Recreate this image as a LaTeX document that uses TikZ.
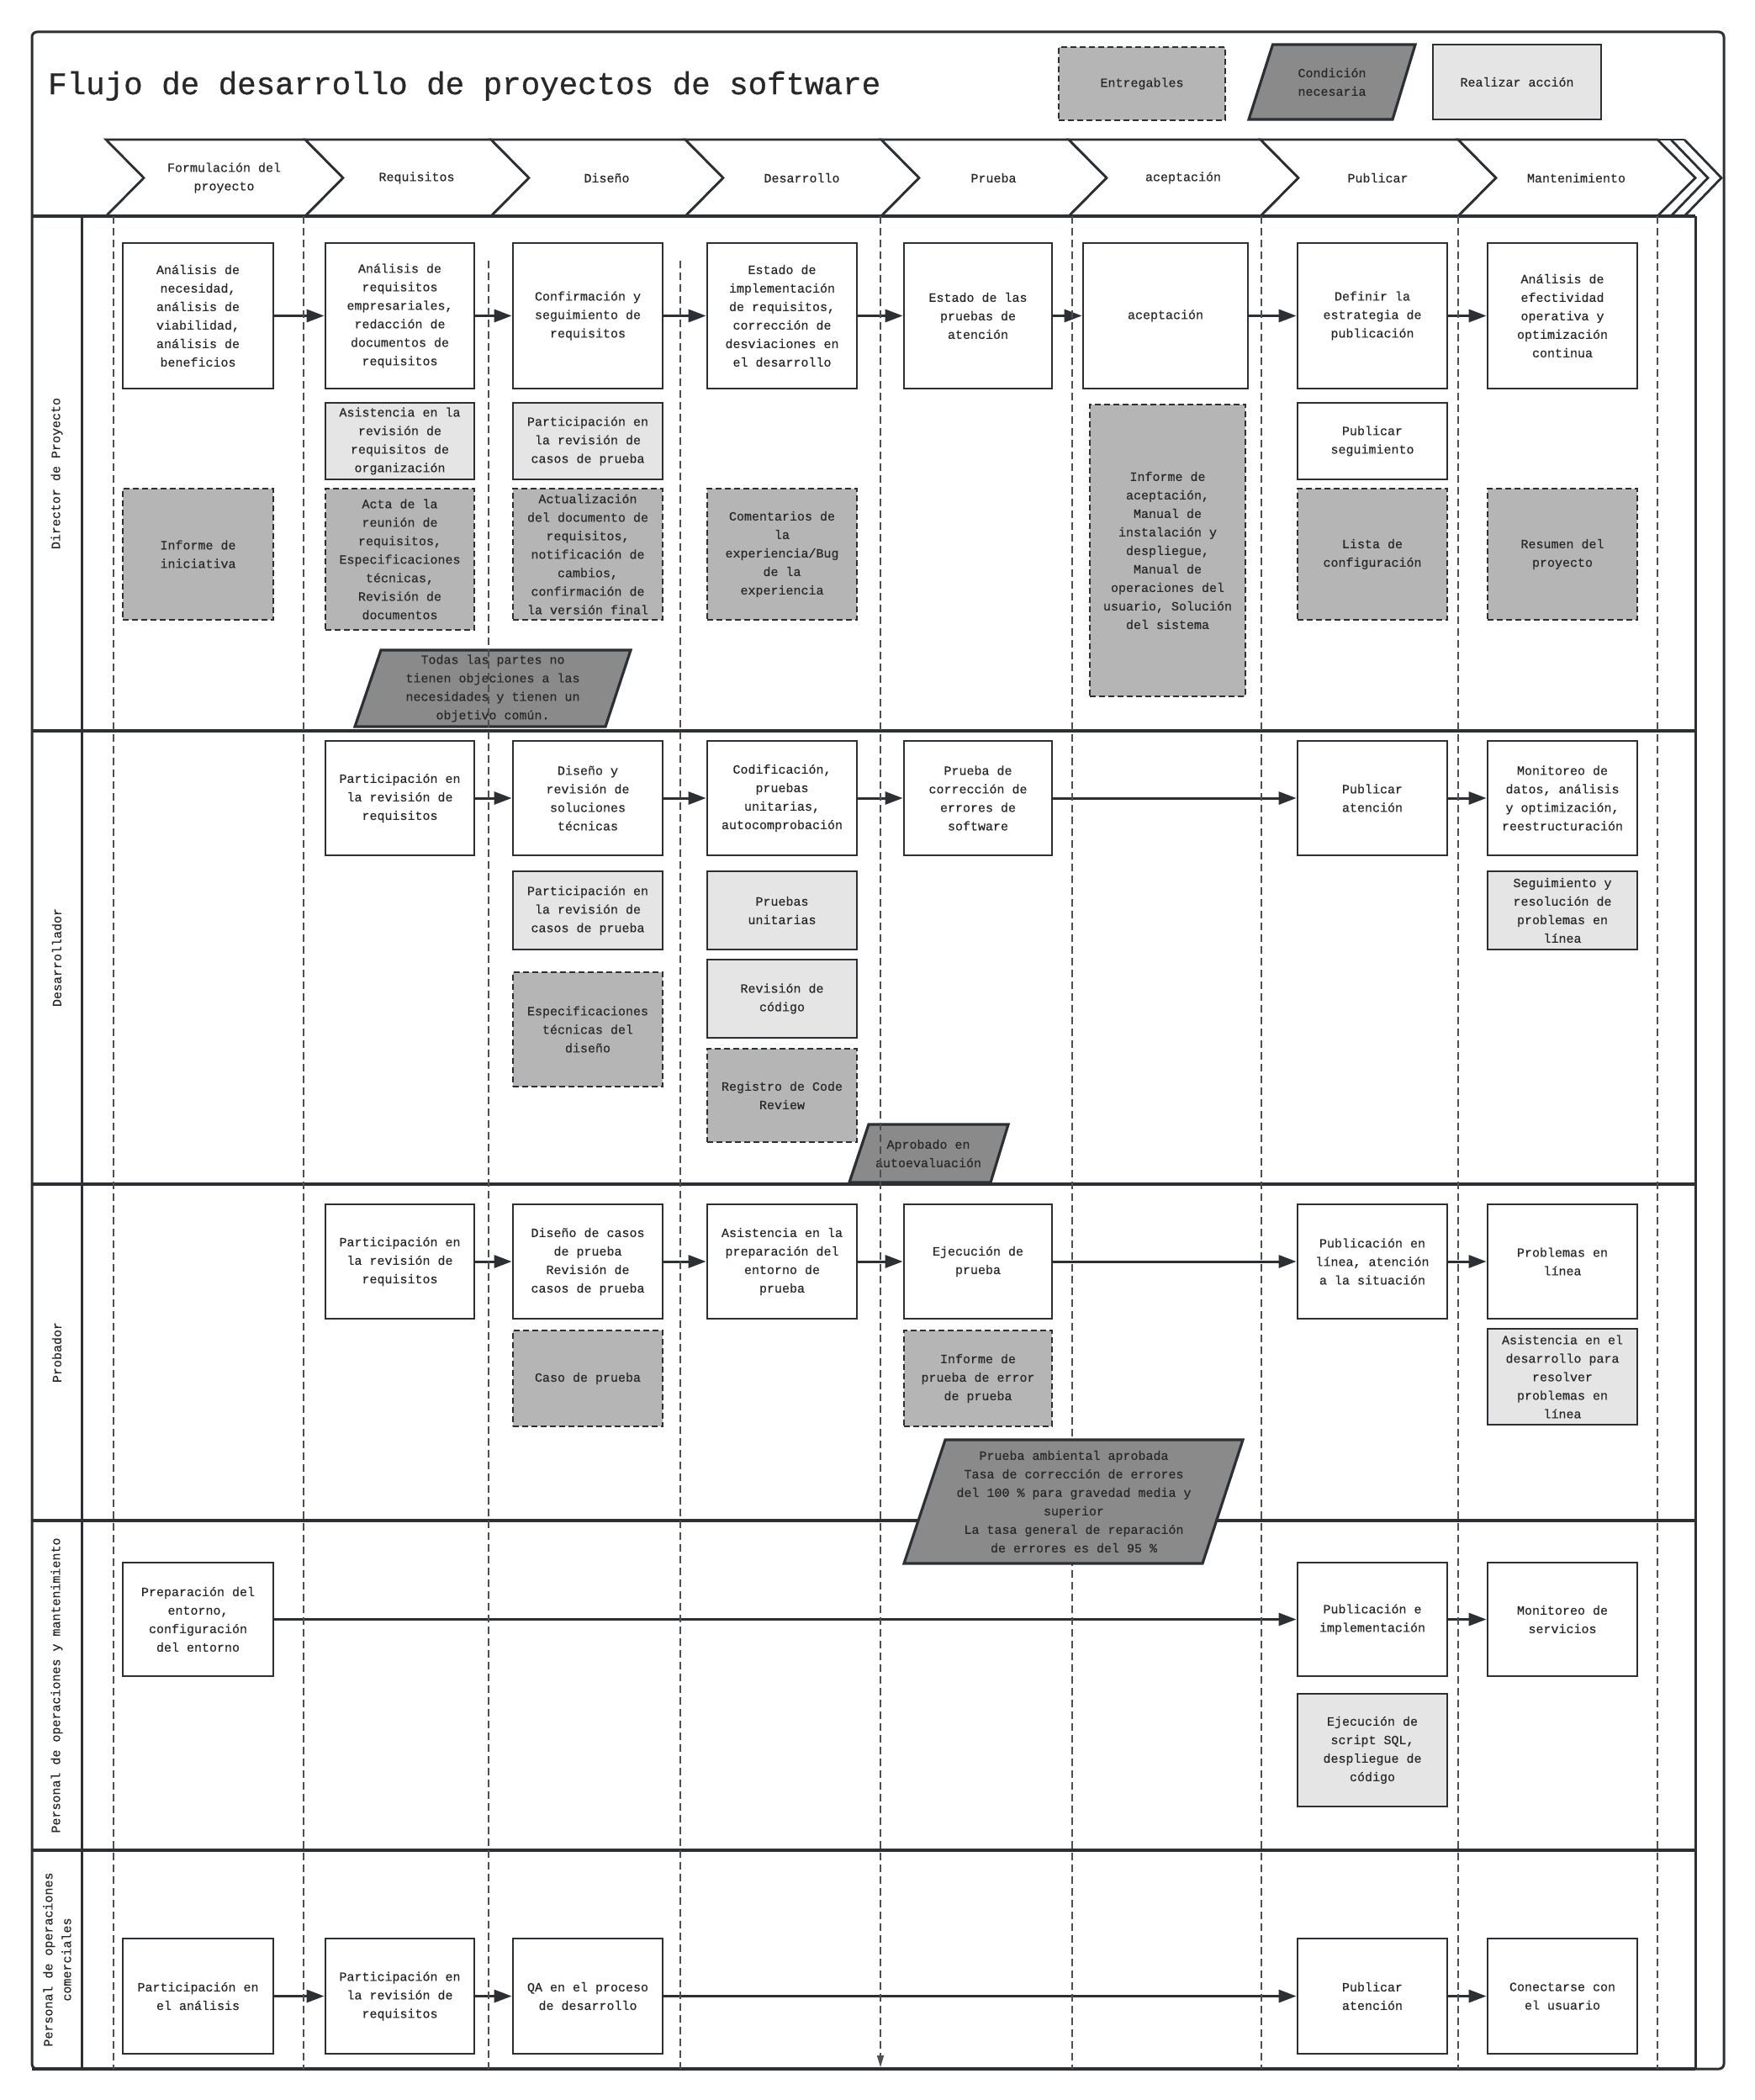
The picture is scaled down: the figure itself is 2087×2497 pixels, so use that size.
\documentclass[tikz,border=0pt]{standalone}
\usepackage{fontspec}
\setmainfont{Liberation Mono}[FakeBold=0.5]
\newfontfamily\titlefont{Liberation Mono}[FakeBold=0.8]
\usetikzlibrary{arrows.meta}
\definecolor{linec}{RGB}{44,48,53}
\definecolor{textc}{RGB}{40,40,40}
\definecolor{delc}{RGB}{181,181,181}
\definecolor{actc}{RGB}{229,229,229}
\definecolor{condc}{RGB}{138,138,138}
\tikzset{
  txt/.style={text=textc, font=\fontsize{15}{22}\selectfont, align=center},
  box/.style={txt, draw=linec, line width=2.8pt, fill=white, inner sep=2pt},
  act/.style={box, fill=actc},
  deliv/.style={box, fill=delc, line width=2pt, dash pattern=on 7pt off 4pt},
  cond/.style={draw=linec, line width=3.2pt, fill=condc, line join=miter},
  lanesep/.style={draw=linec, line width=4.5pt},
  colsep/.style={draw=linec!85, line width=1.5pt, dash pattern=on 9pt off 5pt},
  flow/.style={draw=linec, line width=3pt, -{Triangle[length=21pt,width=15pt]}},
  chev/.style={draw=linec, line width=2.8pt, fill=white, line join=miter},
  lanelbl/.style={txt, rotate=90},
}
\newcommand{\Bx}[6]{\node[#1, minimum width=#4pt, minimum height=#5pt] (#2) at (#3) {#6};}
\begin{document}
\begin{tikzpicture}[x=1pt,y=-1pt]
\useasboundingbox (0,0) rectangle (2087,2497);
\fill[white] (0,0) rectangle (2087,2497);

% outer frame
\draw[linec, line width=3pt, rounded corners=6pt] (38,38) rectangle (2050,2460);

% title
\node[anchor=base west, font=\titlefont\fontsize{37.5}{40}\selectfont, text=textc, inner sep=0pt] (title) at (57,112) {Flujo de desarrollo de proyectos de software};

% legend
\node[deliv, minimum width=198pt, minimum height=87pt] (lg1) at (1358,99.5) {Entregables};
\draw[cond] (1513.5,53) -- (1683,53) -- (1656,142) -- (1485,142) -- cycle;
\node[txt] (lg2) at (1584,97.5) {Condición\\necesaria};
\node[act, minimum width=200pt, minimum height=89pt] (lg3) at (1804,97.5) {Realizar acción};

% header chevrons
\foreach \a/\b/\t [count=\i] in {126/363/{Formulación del\\proyecto},363/584/Requisitos,584/815/Diseño,815/1048/Desarrollo,1048/1271/Prueba,1271/1499/aceptación,1499/1734/Publicar,1734/1971/Mantenimiento}{
  \draw[chev] (\a,166) -- (\b,166) -- (\b+45,211.5) -- (\b,257) -- (\a,257) -- (\a+45,211.5) -- cycle;
  \node[txt] (ch\i) at ({(\a+\b)/2+22},211.5) {\t};
}
\draw[linec, line width=2.8pt] (1971,166) -- (2003,166);
\draw[linec, line width=2.8pt] (1971,257) -- (2003,257);
\draw[linec, line width=2.8pt, line join=miter] (1987,166) -- (2031,211.5) -- (1987,257);
\draw[linec, line width=2.8pt, line join=miter] (2003,166) -- (2047,211.5) -- (2003,257);

% lanes container
\draw[lanesep] (38,257) -- (2016,257);
\draw[linec, line width=3pt] (97,257) -- (97,2460);
\draw[linec, line width=3pt] (2016,257) -- (2016,2460);
\foreach \y in {869,1408,1808,2200}{\draw[lanesep] (38,\y) -- (2016,\y);}
\draw[lanesep] (38,2460) -- (2016,2460);

% lane labels
\node[lanelbl] (L1) at (67.5,563) {Director de Proyecto};
\node[lanelbl] (L2) at (67.5,1138.5) {Desarrollador};
\node[lanelbl] (L3) at (67.5,1608) {Probador};
\node[lanelbl] (L4) at (67.5,2004) {Personal de operaciones y mantenimiento};
\node[lanelbl] (L5) at (68,2330) {Personal de operaciones\\comerciales};

% ---- lane 1: Director
\Bx{box}{d1}{235.5,375.5}{179}{173}{Análisis de\\necesidad,\\análisis de\\viabilidad,\\análisis de\\beneficios}
\Bx{box}{d2}{475.5,375.5}{177}{173}{Análisis de\\requisitos\\empresariales,\\redacción de\\documentos de\\requisitos}
\Bx{box}{d3}{699,375.5}{178}{173}{Confirmación y\\seguimiento de\\requisitos}
\Bx{box}{d4}{930,375.5}{178}{173}{Estado de\\implementación\\de requisitos,\\corrección de\\desviaciones en\\el desarrollo}
\Bx{box}{d5}{1163,375.5}{176}{173}{Estado de las\\pruebas de\\atención}
\Bx{box}{d6}{1386,375.5}{196}{173}{aceptación}
\Bx{box}{d7}{1632,375.5}{178}{173}{Definir la\\estrategia de\\publicación}
\Bx{box}{d8}{1858,375.5}{178}{173}{Análisis de\\efectividad\\operativa y\\optimización\\continua}

\Bx{act}{d2a}{475.5,524.5}{177}{91}{Asistencia en la\\revisión de\\requisitos de\\organización}
\Bx{act}{d3a}{699,524.5}{178}{91}{Participación en\\la revisión de\\casos de prueba}
\Bx{box}{d7a}{1632,524.5}{178}{91}{Publicar\\seguimiento}

\Bx{deliv}{d1e}{235.5,659}{179}{156}{Informe de\\iniciativa}
\Bx{deliv}{d2e}{475.5,665}{177}{168}{Acta de la\\reunión de\\requisitos,\\Especificaciones\\técnicas,\\Revisión de\\documentos}
\Bx{deliv}{d3e}{699,659}{178}{156}{Actualización\\del documento de\\requisitos,\\notificación de\\cambios,\\confirmación de\\la versión final}
\Bx{deliv}{d4e}{930,659}{178}{156}{Comentarios de\\la\\experiencia/Bug\\de la\\experiencia}
\Bx{deliv}{d6e}{1388.5,654.5}{185}{347}{Informe de\\aceptación,\\Manual de\\instalación y\\despliegue,\\Manual de\\operaciones del\\usuario, Solución\\del sistema}
\Bx{deliv}{d7e}{1632,659}{178}{156}{Lista de\\configuración}
\Bx{deliv}{d8e}{1858,659}{178}{156}{Resumen del\\proyecto}

\draw[cond] (453,773) -- (750,773) -- (720,864) -- (422,864) -- cycle;
\node[txt] (k1) at (586,818.5) {Todas las partes no\\tienen objeciones a las\\necesidades y tienen un\\objetivo común.};

% ---- lane 2: Desarrollador
\Bx{box}{e2}{475.5,949}{177}{136}{Participación en\\la revisión de\\requisitos}
\Bx{box}{e3}{699,949}{178}{136}{Diseño y\\revisión de\\soluciones\\técnicas}
\Bx{box}{e4}{930,949}{178}{136}{Codificación,\\pruebas\\unitarias,\\autocomprobación}
\Bx{box}{e5}{1163,949}{176}{136}{Prueba de\\corrección de\\errores de\\software}
\Bx{box}{e7}{1632,949}{178}{136}{Publicar\\atención}
\Bx{box}{e8}{1858,949}{178}{136}{Monitoreo de\\datos, análisis\\y optimización,\\reestructuración}

\Bx{act}{e3a}{699,1082.5}{178}{93}{Participación en\\la revisión de\\casos de prueba}
\Bx{act}{e4a}{930,1082.5}{178}{93}{Pruebas\\unitarias}
\Bx{act}{e8a}{1858,1082.5}{178}{93}{Seguimiento y\\resolución de\\problemas en\\línea}
\Bx{act}{e4b}{930,1187.5}{178}{93}{Revisión de\\código}
\Bx{deliv}{e3e}{699,1224}{178}{136}{Especificaciones\\técnicas del\\diseño}
\Bx{deliv}{e4e}{930,1302.5}{178}{111}{Registro de Code\\Review}

\draw[cond] (1033,1337) -- (1199,1337) -- (1178,1406) -- (1010,1406) -- cycle;
\node[txt] (k2) at (1104,1371.5) {Aprobado en\\autoevaluación};

% ---- lane 3: Probador
\Bx{box}{f2}{475.5,1500}{177}{136}{Participación en\\la revisión de\\requisitos}
\Bx{box}{f3}{699,1500}{178}{136}{Diseño de casos\\de prueba\\Revisión de\\casos de prueba}
\Bx{box}{f4}{930,1500}{178}{136}{Asistencia en la\\preparación del\\entorno de\\prueba}
\Bx{box}{f5}{1163,1500}{176}{136}{Ejecución de\\prueba}
\Bx{box}{f7}{1632,1500}{178}{136}{Publicación en\\línea, atención\\a la situación}
\Bx{box}{f8}{1858,1500}{178}{136}{Problemas en\\línea}

\Bx{deliv}{f3e}{699,1639}{178}{114}{Caso de prueba}
\Bx{deliv}{f5e}{1163,1639}{176}{114}{Informe de\\prueba de error\\de prueba}
\Bx{act}{f8a}{1858,1637}{178}{114}{Asistencia en el\\desarrollo para\\resolver\\problemas en\\línea}

% ---- lane 4: Operaciones
\Bx{box}{g1}{235.5,1925.5}{179}{135}{Preparación del\\entorno,\\configuración\\del entorno}
\Bx{box}{g7}{1632,1925.5}{178}{135}{Publicación e\\implementación}
\Bx{box}{g8}{1858,1925.5}{178}{135}{Monitoreo de\\servicios}
\Bx{act}{g7a}{1632,2081}{178}{134}{Ejecución de\\script SQL,\\despliegue de\\código}

% ---- lane 5: Comerciales
\Bx{box}{h1}{235.5,2373.5}{179}{137}{Participación en\\el análisis}
\Bx{box}{h2}{475.5,2373.5}{177}{137}{Participación en\\la revisión de\\requisitos}
\Bx{box}{h3}{699,2373.5}{178}{137}{QA en el proceso\\de desarrollo}
\Bx{box}{h7}{1632,2373.5}{178}{137}{Publicar\\atención}
\Bx{box}{h8}{1858,2373.5}{178}{137}{Conectarse con\\el usuario}

% ---- flows
\draw[flow] (d1) -- (d2);
\draw[flow] (d2) -- (d3);
\draw[flow] (d3) -- (d4);
\draw[flow] (d4) -- (d5);
\draw[flow] (d5) -- (d6);
\draw[flow] (d6) -- (d7);
\draw[flow] (d7) -- (d8);
\draw[flow] (e2) -- (e3);
\draw[flow] (e3) -- (e4);
\draw[flow] (e4) -- (e5);
\draw[flow] (e5) -- (e7);
\draw[flow] (e7) -- (e8);
\draw[flow] (f2) -- (f3);
\draw[flow] (f3) -- (f4);
\draw[flow] (f4) -- (f5);
\draw[flow] (f5) -- (f7);
\draw[flow] (f7) -- (f8);
\draw[flow] (g1) -- (g7);
\draw[flow] (g7) -- (g8);
\draw[flow] (h1) -- (h2);
\draw[flow] (h2) -- (h3);
\draw[flow] (h3) -- (h7);
\draw[flow] (h7) -- (h8);

% ---- column separators
\foreach \x in {135,361,1275,1500,1734,1971}{\draw[colsep] (\x,257) -- (\x,2460);}
\foreach \x in {581,809}{\draw[colsep] (\x,310) -- (\x,2460);}
\draw[colsep, -{Triangle[length=14pt,width=8pt]}] (1047,257) -- (1047,2458);

% condition 3 (drawn over the separator)
\draw[cond] (1124,1712) -- (1478,1712) -- (1430,1859) -- (1075,1859) -- cycle;
\node[txt] (k3) at (1277,1785.5) {Prueba ambiental aprobada\\Tasa de corrección de errores\\del 100 \% para gravedad media y\\superior\\La tasa general de reparación\\de errores es del 95 \%};
\end{tikzpicture}
\end{document}
